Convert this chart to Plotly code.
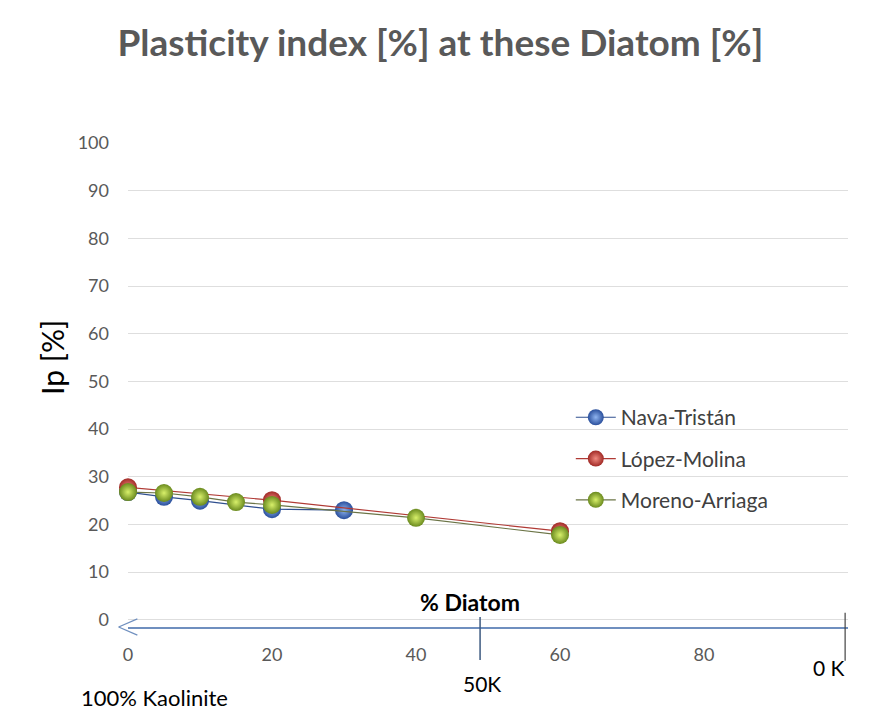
import plotly.graph_objects as go

# Plasticity index (Ip) versus diatom content for three test series
nava_x = [0, 5, 10, 20, 30]
nava_ip = [26.8, 25.8, 25.0, 23.2, 23.0]

lopez_x = [0, 20, 60]
lopez_ip = [27.8, 25.1, 18.6]

moreno_x = [0, 5, 10, 15, 20, 40, 60]
moreno_ip = [26.8, 26.6, 25.8, 24.7, 24.1, 21.4, 17.8]

x_ticks = [0, 20, 40, 60, 80]
y_ticks = [0, 10, 20, 30, 40, 50, 60, 70, 80, 90, 100]

XR = [0, 100]
YR = [-1.5, 100]

FONT = "Lato"
GREY = "#595959"


def px(v):
    """Data x -> paper x."""
    return (v - XR[0]) / (XR[1] - XR[0])


def py(v):
    """Data y -> paper y."""
    return (v - YR[0]) / (YR[1] - YR[0])


series = [
    ("Nava-Tristán", nava_x, nava_ip, "#2a4f9c", "#8fb4f0", "#2f4f8f"),
    ("López-Molina", lopez_x, lopez_ip, "#a12a26", "#f08a80", "#b03a35"),
    ("Moreno-Arriaga", moreno_x, moreno_ip, "#6a8a1e", "#d8f06a", "#6b7446"),
]

fig = go.Figure()
for name, xs, ys, edge, glow, line_col in series:
    fig.add_trace(go.Scatter(
        x=xs, y=ys, name=name, mode="lines+markers",
        legendgroup=name,
        line=dict(color=line_col, width=1.2),
        marker=dict(size=18, color=edge,
                    gradient=dict(type="radial", color=glow),
                    line=dict(width=0)),
        cliponaxis=False,
    ))

shapes = [
    # arrowhead at the left end of the x axis
    dict(type="line", xref="paper", yref="paper",
         x0=px(-1.3), y0=py(-1.5), x1=px(1.3), y1=py(0.2),
         line=dict(color="#6f8fbf", width=1.2)),
    dict(type="line", xref="paper", yref="paper",
         x0=px(-1.3), y0=py(-1.5), x1=px(1.3), y1=py(-3.2),
         line=dict(color="#6f8fbf", width=1.2)),
    # 50 % kaolinite marker
    dict(type="line", xref="paper", yref="paper",
         x0=px(48.9), y0=py(0.6), x1=px(48.9), y1=py(-8.4),
         line=dict(color="#3d5a80", width=1.5)),
    # 0 % kaolinite marker
    dict(type="line", xref="paper", yref="paper",
         x0=px(99.6), y0=py(1.5), x1=px(99.6), y1=py(-8.6),
         line=dict(color="#444444", width=1.2)),
]


def label(text, x, y, size, **kw):
    return dict(text=text, xref="paper", yref="paper", x=x, y=y,
                xanchor=kw.pop("xanchor", "center"), yanchor="middle",
                showarrow=False,
                font=dict(family=FONT, size=size, color="#000000"), **kw)


annotations = [
    label("Ip [%]", -0.1056, 0.558, 30, textangle=-90),
    label("<b>% Diatom</b>", px(47.5), py(3.8), 23),
    label("50K", px(49.2), py(-13.3), 21),
    label("0 K", px(97.3), py(-9.9), 21),
    label("100% Kaolinite", px(-6.8), py(-16.2), 22, xanchor="left"),
]

fig.update_layout(
    width=872, height=719,
    margin=dict(l=128, r=24, t=143, b=92),
    paper_bgcolor="white", plot_bgcolor="white",
    title=dict(text="<b>Plasticity index [%] at these Diatom [%]</b>",
               x=0.505, xanchor="center", xref="container",
               y=1 - 43 / 719, yanchor="middle", yref="container",
               font=dict(family=FONT, size=37, color=GREY)),
    font=dict(family=FONT, color=GREY),
    showlegend=True,
    legend=dict(x=0.615, y=0.475, xanchor="left", yanchor="top",
                tracegroupgap=11, itemwidth=40, bgcolor="rgba(0,0,0,0)",
                font=dict(family=FONT, size=21, color="#404040")),
    shapes=shapes,
    annotations=annotations,
)

fig.update_xaxes(
    range=XR, tickvals=x_ticks, showgrid=False, zeroline=False,
    showline=True, linecolor="#6f8fbf", linewidth=1.5,
    ticks="", ticklabelstandoff=11,
    tickfont=dict(family=FONT, size=18, color=GREY),
)
fig.update_yaxes(
    range=YR, tickvals=y_ticks, showgrid=True, gridcolor="#dedede",
    gridwidth=1, zeroline=False, showline=False, ticks="",
    ticklabelstandoff=18,
    tickfont=dict(family=FONT, size=18, color=GREY),
)

fig.write_html("out.html")
